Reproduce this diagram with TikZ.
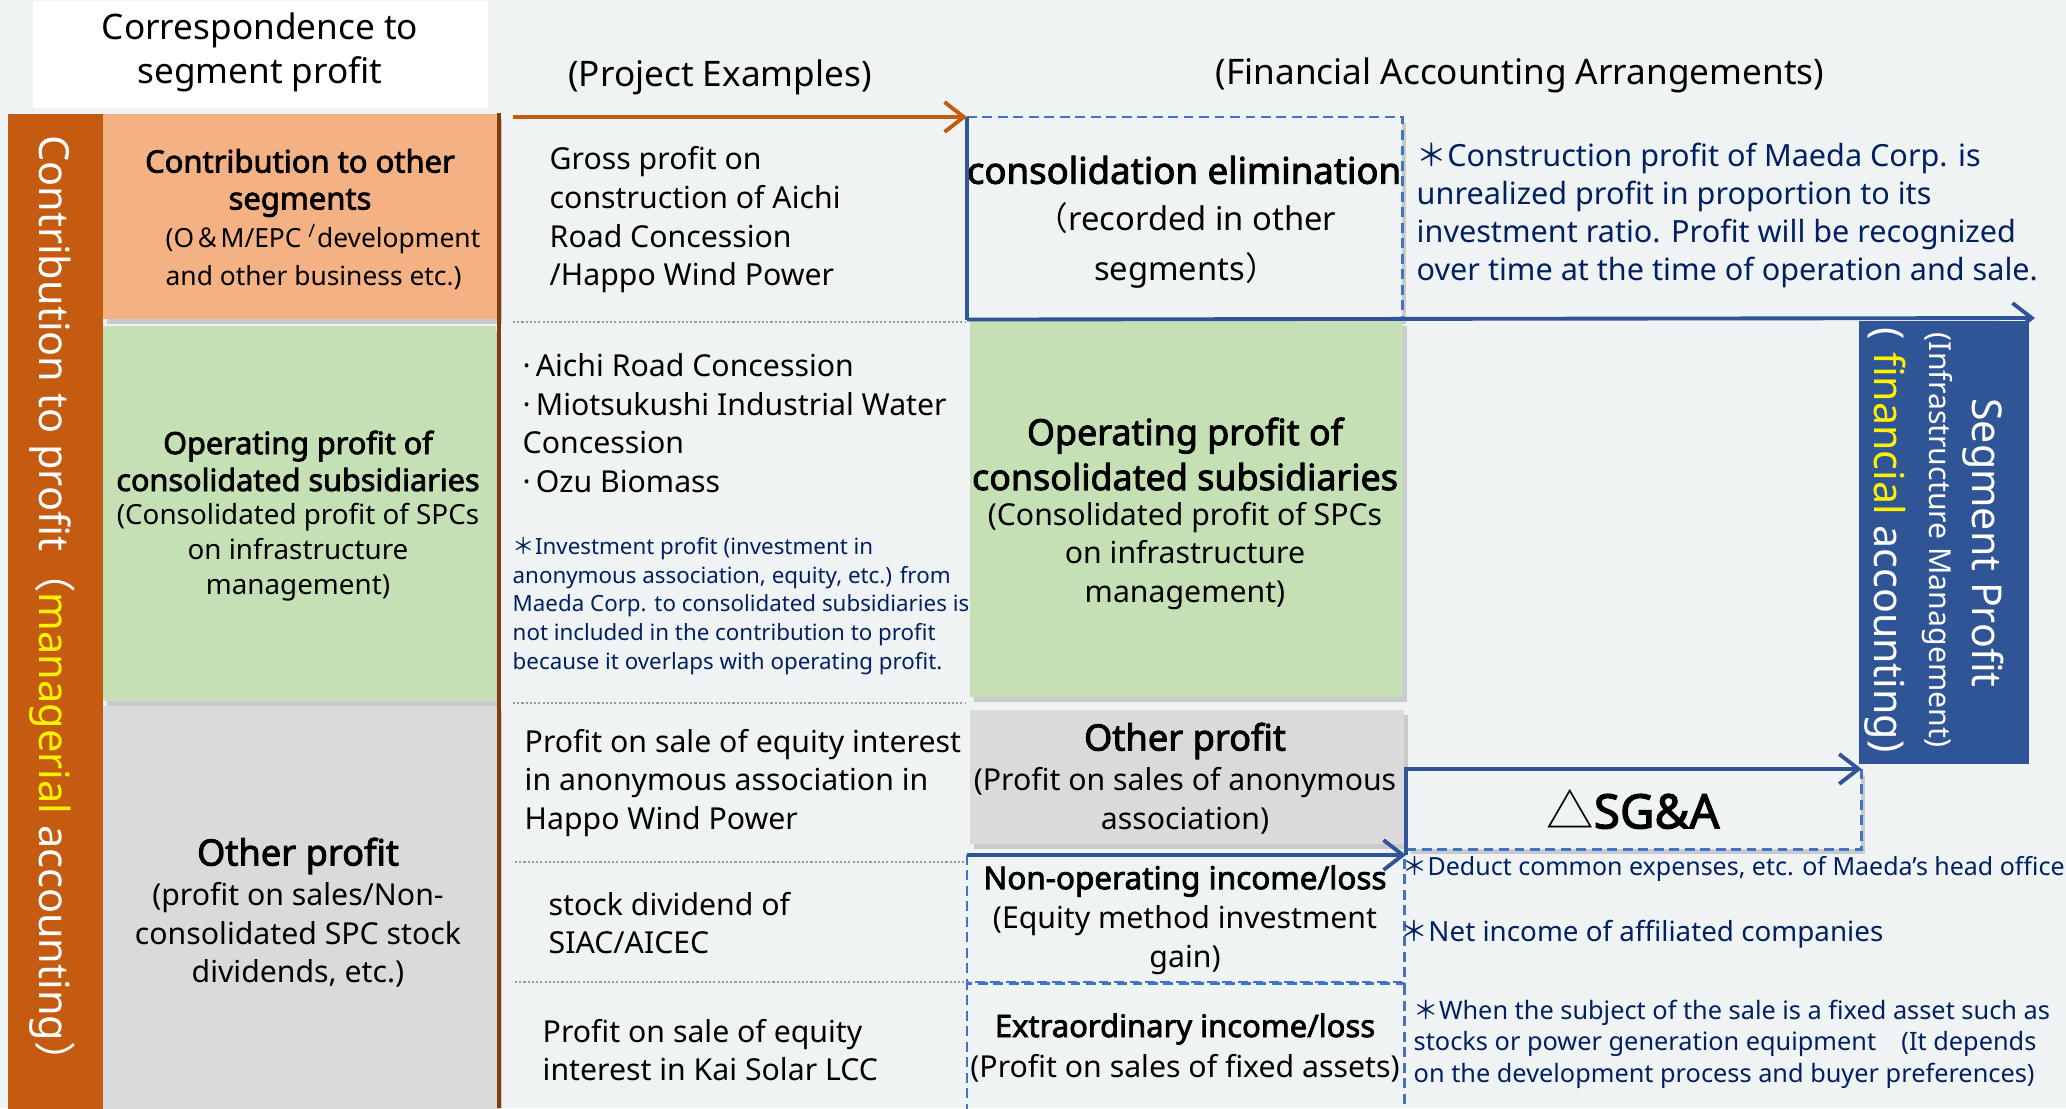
\documentclass[tikz,border=0pt]{standalone}
\usepackage{fontspec}
\setmainfont{Noto Sans}[BoldFont={Noto Sans},BoldFeatures={FakeBold=2.5}]
\newfontfamily\cjk{Noto Sans CJK JP}
\usetikzlibrary{arrows.meta,shadows}

\definecolor{paper}{HTML}{F0F3F4}
\definecolor{barorange}{HTML}{C55A11}
\definecolor{peach}{HTML}{F4B183}
\definecolor{leaf}{HTML}{C5E0B4}
\definecolor{stone}{HTML}{DADADA}
\definecolor{navyline}{HTML}{2F5597}
\definecolor{dashblue}{HTML}{4472C4}
\definecolor{notenavy}{HTML}{002060}
\definecolor{rust}{HTML}{843C0C}
\definecolor{dotgray}{HTML}{9A9A9A}

\newcommand{\fsz}[2]{\fontsize{#1}{#2}\selectfont}

\begin{document}
\begin{tikzpicture}[x=0.01cm,y=-0.01cm,
	box/.style={inner sep=0pt,anchor=north west},
	shade/.style={drop shadow={shadow xshift=1.2pt,shadow yshift=-1.5pt,opacity=0.35}},
	txt/.style={inner sep=0pt,align=center},
	body/.style={inner sep=0pt,align=left,anchor=west,font=\fsz{8.6}{11}},
	hdr/.style={txt,font=\fsz{10}{12.5}},
	note/.style={inner sep=0pt,align=left,anchor=west,text=notenavy},
	arr/.style={line width=1.1pt,-{Straight Barb[length=5.5pt,width=8.5pt]}},
	solidedge/.style={navyline,line width=1.1pt},
	dashedge/.style={dashblue,line width=0.8pt,dash pattern=on 2.8pt off 1.6pt},
	sep/.style={dotgray,line width=0.6pt,dash pattern=on 0.6pt off 0.6pt}]
	\fill[paper] (0,0) rectangle (2066,1108);
	\useasboundingbox (0,0) rectangle (2066,1108);

	%headings
	\node[box,fill=white,minimum width=4.55cm,minimum height=1.07cm] (corrbox) at (32,0) {};
	\node[hdr] (corr) at (260,52) {Correspondence to\\segment profit};
	\node[hdr] (projhdr) at (720,77) {(Project Examples)};
	\node[hdr] (finhdr) at (1520,75) {(Financial Accounting Arrangements)};

	%left column (managerial accounting)
	\node[box,fill=barorange,minimum width=0.95cm,minimum height=9.95cm] (bar) at (7,113) {};
	\node[txt,rotate=-90,text=white,font=\fsz{11.8}{14}] (bartxt) at (52,609)
		{Contribution to profit{\cjk （}\textcolor{yellow}{managerial} accounting{\cjk ）}};
	\node[box,fill=peach,shade,minimum width=3.95cm,minimum height=2.05cm] (contrib) at (102,113) {};
	\node[box,fill=leaf,shade,minimum width=3.93cm,minimum height=3.75cm] (opleft) at (102,325) {};
	\node[box,fill=stone,shade,minimum width=3.95cm,minimum height=4.10cm] (othleft) at (102,705) {};
	\draw[rust,line width=0.9pt] (499,113) -- (499,1108);

	\node[txt,font=\bfseries\fsz{8.8}{10.5}] (contribt) at (300,183) {Contribution to other\\segments};
	\node[note,text=black,font=\fsz{7.5}{10.8}] (contribs) at (165,257)
		{(O{\cjk ＆}M/EPC \textsuperscript{/}development\\and other business etc.)};
	\node[txt,font=\bfseries\fsz{8.7}{10.5}] (oplefttitle) at (298,461) {Operating profit of\\consolidated subsidiaries};
	\node[txt,font=\fsz{7.9}{10}] (opleftsub) at (298,552) {(Consolidated profit of SPCs\\on infrastructure\\management)};
	\node[txt,font=\bfseries\fsz{10.3}{12}] (othlefttitle) at (298,856) {Other profit};
	\node[txt,font=\fsz{8.6}{11}] (othleftsub) at (298,935) {(profit on sales/Non-\\consolidated SPC stock\\dividends, etc.)};

	%project examples
	\node[body] (ex1) at (549,220) {Gross profit on\\construction of Aichi\\Road Concession\\/Happo Wind Power};
	\draw[sep] (513,322) -- (965,322);
	\node[body] (ex2) at (522,423) {·\,Aichi Road Concession\\·\,Miotsukushi Industrial Water\\Concession\\·\,Ozu Biomass};
	\node[note,font=\fsz{6.35}{8.2}] (ex2note) at (512,606)
		{{\cjk ＊}Investment profit (investment in\\anonymous association, equity, etc.) from\\Maeda Corp. to consolidated subsidiaries is\\not included in the contribution to profit\\because it overlaps with operating profit.};
	\draw[sep] (513,703) -- (965,703);
	\node[body] (ex3) at (524,783) {Profit on sale of equity interest\\in anonymous association in\\Happo Wind Power};
	\draw[sep] (515,862) -- (965,862);
	\node[body] (ex4) at (548,923) {stock dividend of\\SIAC/AICEC};
	\draw[sep] (515,982) -- (965,982);
	\node[body] (ex5) at (542,1050) {Profit on sale of equity\\interest in Kai Solar LCC};

	%financial accounting arrangements
	\node[box,fill=paper,shade,minimum width=4.34cm,minimum height=2.01cm] (elim) at (967,117) {};
	\node[box,fill=leaf,shade,minimum width=4.33cm,minimum height=3.76cm] (opmid) at (969,320) {};
	\node[box,fill=stone,shade,minimum width=4.34cm,minimum height=1.34cm] (othmid) at (969,709) {};
	\node[box,minimum width=4.36cm,minimum height=1.27cm] (nonop) at (967,855) {};
	\node[box,minimum width=4.36cm,minimum height=1.30cm] (extra) at (967,982) {};
	\node[box,fill=paper,shade,minimum width=4.54cm,minimum height=0.79cm] (sga) at (1406,769) {};
	\node[box,fill=navyline,minimum width=1.70cm,minimum height=4.43cm] (segbox) at (1858,320) {};

	\node[txt,font=\bfseries\fsz{10.4}{12}] (elimtitle) at (1184,170) {consolidation elimination};
	\node[txt,font=\fsz{9.3}{14.2}] (elimsub) at (1186,245) {{\cjk （}recorded in other\\segments{\cjk ）}};
	\node[txt,font=\bfseries\fsz{10.2}{12.8}] (opmidtitle) at (1185,454) {Operating profit of\\consolidated subsidiaries};
	\node[txt,font=\fsz{8.6}{11}] (opmidsub) at (1185,556) {(Consolidated profit of SPCs\\on infrastructure\\management)};
	\node[txt,font=\bfseries\fsz{10.3}{12}] (othmidtitle) at (1185,741) {Other profit};
	\node[txt,font=\fsz{8.6}{11}] (othmidsub) at (1185,801) {(Profit on sales of anonymous\\association)};
	\node[txt,font=\bfseries\fsz{8.95}{11}] (nonoptitle) at (1185,881) {Non-operating income/loss};
	\node[txt,font=\fsz{8.6}{11}] (nonopsub) at (1185,940) {(Equity method investment\\gain)};
	\node[txt,font=\bfseries\fsz{8.8}{11}] (extratitle) at (1185,1029) {Extraordinary income/loss};
	\node[txt,font=\fsz{8.6}{11}] (extrasub) at (1185,1068) {(Profit on sales of fixed assets)};
	\node[txt,font=\bfseries\fsz{13.5}{15}] (sgatxt) at (1633,809) {{\cjk\mdseries △}SG\&A};

	\node[txt,rotate=-90,text=white,font=\fsz{11.7}{14}] (segtitle) at (1983,543) {Segment Profit};
	\node[txt,rotate=-90,text=white,font=\fsz{8.6}{11}] (segmid) at (1937,540) {(Infrastructure Management)};
	\node[txt,rotate=-90,text=white,font=\fsz{11.7}{14}] (segfin) at (1885,540)
		{(\hspace{0.3em}\textcolor{yellow}{financial} accounting)};

	%box edges
	\draw[dashedge] (elim.north west) -- (elim.north east) -- (elim.south east);
	\draw[solidedge] (elim.north west) -- (elim.south west);
	\draw[dashedge] (nonop.north west) -- (nonop.south west) -- (nonop.south east) -- (nonop.north east);
	\draw[dashedge] (extra.south west) -- (extra.north west) -- (extra.north east) -- (extra.south east);
	\draw[dashedge] (sga.north east) -- (sga.south east) -- (sga.south west);

	%arrows
	\coordinate (projstart) at (513,117);
	\coordinate (segtip) at (2035,318);
	\coordinate (sgafoot) at (sga.west |- nonop.north);
	\draw[arr,barorange] (projstart) -- (elim.north west);
	\draw[arr,navyline] (elim.south west) -- (segtip);
	\draw[arr,navyline] (nonop.north west) -- (sgafoot);
	\draw[arr,navyline] (sgafoot) -- (sga.north west) -- (sga.north east);

	%notes
	\node[note,font=\fsz{8.7}{10.8}] (note1) at (1416,215)
		{{\cjk ＊}Construction profit of Maeda Corp. is\\unrealized profit in proportion to its\\investment ratio. Profit will be recognized\\over time at the time of operation and sale.};
	\node[note,font=\fsz{7.1}{10}] (note2) at (1402,869) {{\cjk ＊}Deduct common expenses, etc. of Maeda's head office};
	\node[note,font=\fsz{7.9}{10}] (note3) at (1400,934) {{\cjk ＊}Net income of affiliated companies};
	\node[note,font=\fsz{7.2}{9}] (note4) at (1413,1044)
		{{\cjk ＊}When the subject of the sale is a fixed asset such as\\stocks or power generation equipment\quad(It depends\\on the development process and buyer preferences)};
\end{tikzpicture}
\end{document}
